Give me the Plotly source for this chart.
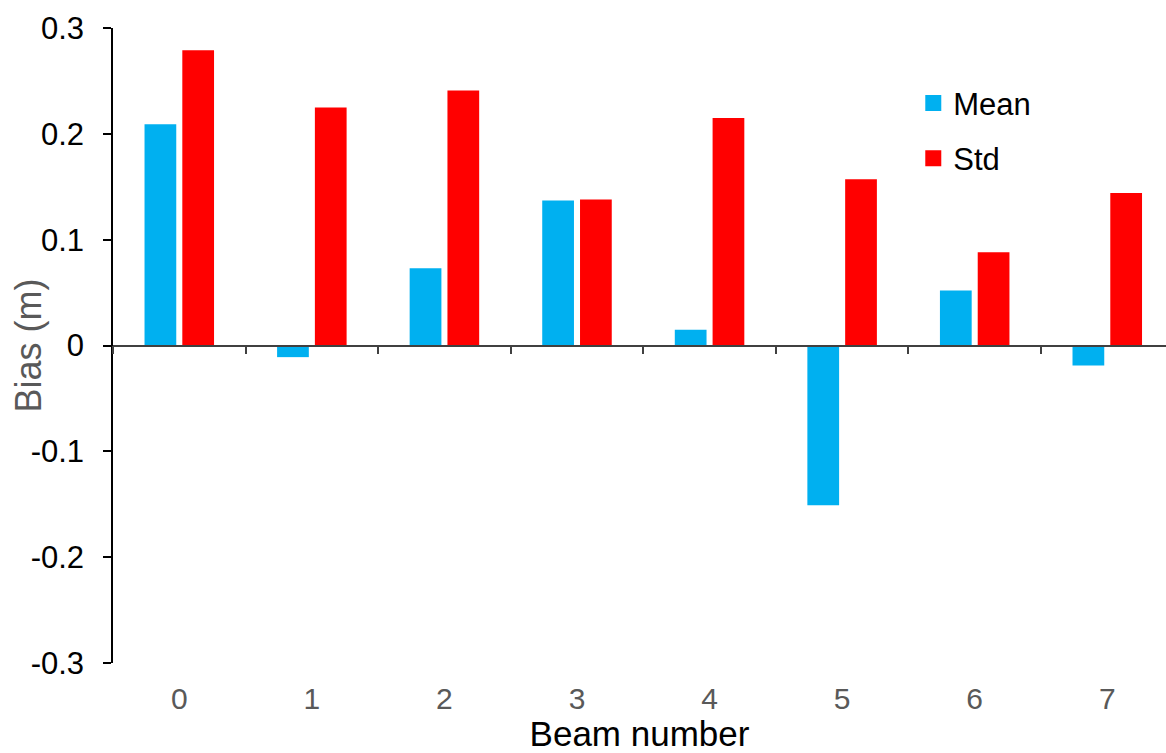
import plotly.graph_objects as go

categories = ["0", "1", "2", "3", "4", "5", "6", "7"]
mean_vals = [0.209, -0.011, 0.073, 0.137, 0.015, -0.151, 0.052, -0.019]
std_vals = [0.279, 0.225, 0.241, 0.138, 0.215, 0.157, 0.088, 0.144]
y_tickvals = [-0.3, -0.2, -0.1, 0, 0.1, 0.2, 0.3]
y_ticktext = ["-0.3", "-0.2", "-0.1", "0", "0.1", "0.2", "0.3"]

MEAN_COLOR = "#00B0F0"
STD_COLOR = "#FF0000"
FONT = "Liberation Sans, Arial, sans-serif"

fig = go.Figure()
fig.add_trace(go.Bar(x=categories, y=mean_vals, name="Mean", marker_color=MEAN_COLOR,
                     marker_line_width=0, showlegend=False))
fig.add_trace(go.Bar(x=categories, y=std_vals, name="Std", marker_color=STD_COLOR,
                     marker_line_width=0, showlegend=False))

# legend entries (larger square symbols)
for nm, col in [("Mean", MEAN_COLOR), ("Std", STD_COLOR)]:
    fig.add_trace(go.Scatter(x=[None], y=[None], mode="markers", name=nm,
                             marker=dict(symbol="square", size=16, color=col),
                             legendgroup=nm, showlegend=True, hoverinfo="skip"))

# dummy trace to register categories on the zero-line axis
fig.add_trace(go.Scatter(x=categories, y=[None] * len(categories), xaxis="x2",
                         mode="markers", showlegend=False, hoverinfo="skip"))

xrange = [-0.5, 7.443]

fig.update_layout(
    width=1166, height=753,
    margin=dict(l=113, r=0, t=28, b=90),
    plot_bgcolor="white", paper_bgcolor="white",
    font=dict(family=FONT, color="black"),
    barmode="group", bargap=0.43, bargroupgap=0.16,
    showlegend=True,
    legend=dict(x=0.76, y=0.924, xanchor="left", yanchor="top",
                font=dict(size=31, color="black", family=FONT),
                tracegroupgap=12, bgcolor="rgba(0,0,0,0)"),
    xaxis=dict(type="category", categoryorder="array", categoryarray=categories,
               range=xrange, showline=False, showgrid=False, zeroline=False,
               ticks="", tickfont=dict(size=30, color="#595959", family=FONT),
               ticklabelstandoff=15,
               title=dict(text="Beam number", font=dict(size=35, color="black", family=FONT),
                          standoff=0)),
    xaxis2=dict(type="category", categoryorder="array", categoryarray=categories,
                overlaying="x", anchor="free", position=0.5, range=xrange,
                showline=True, linecolor="#404040", linewidth=1.5,
                ticks="outside", tickson="boundaries", ticklen=8, tickwidth=1.5,
                tickcolor="#404040", showticklabels=False, showgrid=False, zeroline=False),
    yaxis=dict(range=[-0.3, 0.3], tickvals=y_tickvals, ticktext=y_ticktext,
               showline=True, linecolor="black", linewidth=1.5,
               ticks="outside", ticklen=8, tickwidth=1.5, tickcolor="black",
               ticklabelstandoff=13,
               tickfont=dict(size=31, color="black", family=FONT),
               showgrid=False, zeroline=False),
    annotations=[dict(text="Bias (m)", textangle=-90, xref="paper", yref="paper",
                      x=-0.0807, y=0.5, xanchor="center", yanchor="middle",
                      showarrow=False, font=dict(size=36, color="#595959", family=FONT))],
)

fig.write_html("out.html", config={"displayModeBar": False},
               post_script="document.body.style.margin='0';document.body.style.overflow='hidden';")
